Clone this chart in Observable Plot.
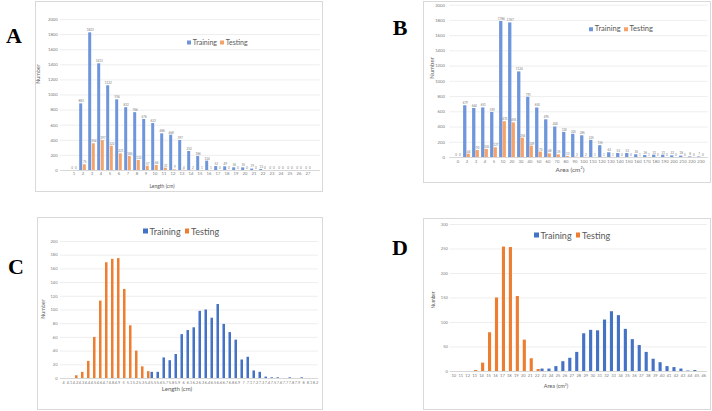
<!DOCTYPE html>
<html><head><meta charset="utf-8">
<script src="https://cdn.jsdelivr.net/npm/d3@7"></script>
<script src="https://cdn.jsdelivr.net/npm/@observablehq/plot@0.6"></script>
<style>
body{margin:0;background:#fff;}
#page{position:relative;width:712px;height:411px;overflow:hidden;background:#fff;}
.frame{position:absolute;outline:1px solid #d9d9d9;outline-offset:-1px;}
.frame svg{position:absolute;left:0;top:0;overflow:visible;}
.t{position:absolute;white-space:nowrap;color:#595959;font-family:Lato,"Liberation Sans",sans-serif;line-height:1;transform:translate(-50%,-50%);}
.letter{position:absolute;font-family:"Liberation Serif",serif;font-weight:bold;color:#000;line-height:1;transform:translate(-50%,-50%);}
.legend{position:absolute;display:flex;align-items:center;font-family:Lato,"Liberation Sans",sans-serif;color:#595959;white-space:nowrap;transform:translateY(-50%);line-height:1;}
.legend i{display:inline-block;}
</style></head><body><div id="page"></div>
<script>
// ---------- Panel A: Length (cm), counts ----------
const catsA = ["1","2","3","4","5","6","7","8","9","10","11","12","13","14","15","16","17","18","19","20","21","22","23","24","25","26","27"];
const trainA = [0,883,1823,1413,1122,936,832,766,676,622,486,468,397,252,186,124,52,49,36,35,19,13,0,0,0,0,0];
const testA  = [0,75,354,397,322,221,185,132,57,66,31,9,4,2,1,1,0,0,0,0,0,0,0,0,0,0,0];
const ticksA = [0,200,400,600,800,1000,1200,1400,1600,1800,2000];

// ---------- Panel B: Area (cm2), counts ----------
const catsB = ["0","2","3","4","5","10","20","30","40","50","60","70","80","90","100","110","120","130","140","150","160","170","180","190","200","210","220","230"];
const trainB = [0,679,644,651,592,1786,1767,1124,791,650,495,400,330,305,285,225,155,62,53,53,36,26,31,31,22,18,8,7];
const testB  = [0,44,92,105,127,470,455,254,149,70,48,35,13,3,2,1,1,1,0,0,1,1,0,0,0,0,0,0];
const ticksB = [0,200,400,600,800,1000,1200,1400,1600,1800,2000];

// ---------- Panel C: Length (cm) distribution ----------
const catsC = ["4","4.1","4.2","4.3","4.4","4.5","4.6","4.7","4.8","4.9","5","5.1","5.2","5.3","5.4","5.5","5.6","5.7","5.8","5.9","6","6.1","6.2","6.3","6.4","6.5","6.6","6.7","6.8","6.9","7","7.1","7.2","7.3","7.4","7.5","7.6","7.7","7.8","7.9","8","8.1","8.2"];
const trainC = [0,0,0,0,0,0,0,0,0,0,0,0,0,0,0,9,9,30,26,35,64,70,74,98,100,88,108,79,67,56,27,31,11,9,2,1,1,0,1,0,1,0,0];
const testC  = [0,0,4,9,25,60,113,169,174,175,130,77,40,17,10,0,0,0,0,0,0,0,0,0,0,0,0,0,0,0,0,0,0,0,0,0,0,0,0,0,0,0,0];
const ticksC = [0,20,40,60,80,100,120,140,160,180,200];

// ---------- Panel D: Area (cm2) distribution ----------
const catsD = ["10","11","12","13","14","15","16","17","18","19","20","21","22","23","24","25","26","27","28","29","30","31","32","33","34","35","36","37","38","39","40","41","42","43","44","45","46"];
const trainD = [0,0,0,0,0,0,0,0,0,0,0,0,0,5,5,10,20,27,39,77,84,83,105,122,114,86,65,53,39,25,18,10,8,5,1,2,0];
const testD  = [0,0,0,2,17,79,150,254,253,153,64,26,4,0,0,0,0,0,0,0,0,0,0,0,0,0,0,0,0,0,0,0,0,0,0,0,0];
const ticksD = [0,50,100,150,200,250,300];

const seriesNames = ["Training","Testing"];

const page = document.getElementById("page");

function addText(txt, x, y, size, opts = {}) {
  const d = document.createElement("div");
  d.className = opts.cls || "t";
  d.textContent = txt;
  d.style.left = x + "px";
  d.style.top = y + "px";
  d.style.fontSize = size + "px";
  if (opts.rotate) d.style.transform = "translate(-50%,-50%) rotate(-90deg)";
  if (opts.html) d.innerHTML = opts.html;
  page.appendChild(d);
}

function addLegend(x, y, size, colors, sq, gap) {
  const d = document.createElement("div");
  d.className = "legend";
  d.style.left = x + "px";
  d.style.top = y + "px";
  d.style.fontSize = size + "px";
  seriesNames.forEach((name, i) => {
    const sw = document.createElement("i");
    sw.style.width = sq + "px"; sw.style.height = sq + "px";
    sw.style.background = colors[i];
    sw.style.marginRight = (sq * 0.45) + "px";
    if (i > 0) sw.style.marginLeft = gap + "px";
    d.appendChild(sw);
    const s = document.createElement("span");
    s.textContent = name;
    d.appendChild(s);
  });
  page.appendChild(d);
}

function panel(cfg) {
  const [fx0, fy0, fx1, fy1] = cfg.frame;
  const [px0, py0, px1, py1] = cfg.plot;
  const W = fx1 - fx0, H = fy1 - fy0;
  const rows = cfg.cats.map((c, i) => ({cat: c, train: cfg.train[i], test: cfg.test[i]}));
  const step = (px1 - px0) / cfg.cats.length;
  const half = step / 2;
  const bw = step * cfg.barFrac;
  const marks = [
    Plot.gridY(cfg.ticks, {stroke: "#e6e6e6", strokeOpacity: 1, strokeWidth: 0.7}),
    Plot.ruleY([0], {stroke: "#d0d0d0", strokeWidth: 0.8}),
    Plot.barY(rows, {x: "cat", y: "train", fill: cfg.colors[0], insetLeft: half - bw, insetRight: half}),
    Plot.barY(rows, {x: "cat", y: "test", fill: cfg.colors[1], insetLeft: half, insetRight: half - bw}),
    Plot.axisY(cfg.ticks, {tickSize: 0, tickPadding: cfg.yPad, fontSize: cfg.yFont, label: null, color: "#7a7a7a", tickFormat: d => String(d)}),
    Plot.axisX({tickSize: 0, tickPadding: cfg.xPad, fontSize: cfg.xFont, label: null, color: "#7a7a7a"})
  ];
  if (cfg.valueLabels) {
    marks.push(Plot.text(rows, {x: "cat", y: "train", text: d => String(d.train), dx: -bw / 2, dy: -2.6, fontSize: cfg.valueFont, fill: "#7a7a7a"}));
    marks.push(Plot.text(rows, {x: "cat", y: "test", text: d => String(d.test), dx: bw / 2, dy: -2.6, fontSize: cfg.valueFont, fill: "#7a7a7a"}));
  }
  const chart = Plot.plot({
    width: W, height: H,
    marginLeft: px0 - fx0, marginRight: fx1 - px1,
    marginTop: py0 - fy0, marginBottom: fy1 - py1,
    x: {type: "band", domain: cfg.cats, padding: 0},
    y: {domain: [0, cfg.ticks[cfg.ticks.length - 1]]},
    style: {background: "transparent", fontFamily: "Lato, 'Liberation Sans', sans-serif", color: "#7a7a7a"},
    marks
  });
  const div = document.createElement("div");
  div.className = "frame";
  div.style.left = fx0 + "px"; div.style.top = fy0 + "px";
  div.style.width = W + "px"; div.style.height = H + "px";
  div.appendChild(chart);
  page.appendChild(div);
}

const lightColors = ["#6f95db", "#f4a36b"];
const strongColors = ["#4472c4", "#ed7d31"];

// A
panel({frame: [35, 1, 323, 192], plot: [60.2, 19, 319.8, 170], cats: catsA, train: trainA, test: testA, ticks: ticksA,
  colors: lightColors, barFrac: 0.375, yPad: 3, yFont: 4.2, xPad: 2, xFont: 4.2, valueLabels: true, valueFont: 3});
addText("Number", 39, 74, 5.5, {rotate: true});
addText("Length (cm)", 162, 185.5, 5);
addLegend(187, 42, 7, lightColors, 4, 3);
addText("A", 14, 36, 22, {cls: "letter"});

// B
panel({frame: [423, 1, 711, 183], plot: [449.4, 4.7, 707.6, 157], cats: catsB, train: trainB, test: testB, ticks: ticksB,
  colors: lightColors, barFrac: 0.38, yPad: 5, yFont: 4.2, xPad: 3, xFont: 4.2, valueLabels: true, valueFont: 3});
addText("Number", 432, 68, 6, {rotate: true});
addText("", 570, 170, 6.5, {html: "Area (cm<sup style='font-size:0.6em;vertical-align:0.6em;line-height:0'>2</sup>)"});
addLegend(589, 29, 7.5, lightColors, 4, 3);
addText("B", 400, 28, 22, {cls: "letter"});

// C
panel({frame: [37, 217, 323, 410], plot: [60, 241, 318, 378], cats: catsC, train: trainC, test: testC, ticks: ticksC,
  colors: strongColors, barFrac: 0.42, yPad: 3, yFont: 4, xPad: 3, xFont: 3.8, valueLabels: false});
addText("Number", 44, 309, 5.5, {rotate: true});
addText("Length (cm)", 177, 389, 6);
addLegend(143, 231, 9, strongColors, 4.5, 4);
addText("C", 16, 267, 22, {cls: "letter"});

// D
panel({frame: [423, 218, 711, 410], plot: [449.8, 224, 706.8, 371], cats: catsD, train: trainD, test: testD, ticks: ticksD,
  colors: strongColors, barFrac: 0.45, yPad: 2.5, yFont: 4, xPad: 3, xFont: 4, valueLabels: false});
addText("Number", 433, 300, 4.8, {rotate: true});
addText("", 556, 387, 5.5, {html: "Area (cm<sup style='font-size:0.6em;vertical-align:0.6em;line-height:0'>2</sup>)"});
addLegend(534, 235, 9, strongColors, 4.5, 4);
addText("D", 400, 248, 22, {cls: "letter"});
</script>
</body></html>
